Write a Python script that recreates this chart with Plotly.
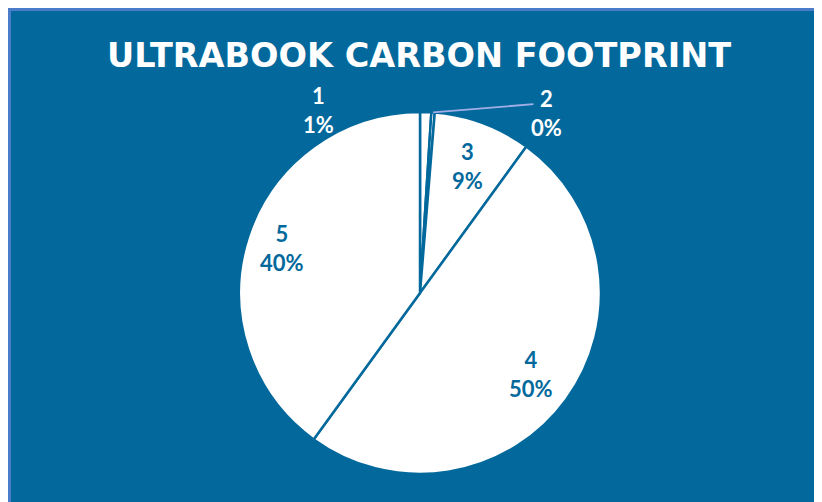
import math
import plotly.graph_objects as go

categories = ["1", "2", "3", "4", "5"]
values = [1.0, 0.3, 8.7, 50.0, 40.0]
title_text = "ULTRABOOK CARBON FOOTPRINT"

BLUE = "#03699c"
FRAME = "#4a7cc9"
LEADER = "#a3aee6"
W, H = 822, 502
CX, CY, R = 412, 285, 181          # pie centre / radius in figure pixels
INSIDE_FRAC = [None, None, 0.75, 0.76, 0.80]
# label offsets (px from pie centre) for the two small slices placed outside
OUTSIDE_OFF = {0: (-102, -183), 1: (126, -180)}
FONT = "Lato"

total = sum(values)
pcts = [v / total for v in values]


def to_paper(px, py):
    return px / W, 1 - py / H


fig = go.Figure()
fig.add_trace(go.Pie(
    labels=categories,
    values=values,
    sort=False,
    direction="clockwise",
    rotation=0,
    marker=dict(colors=["white"] * len(values), line=dict(color=BLUE, width=2.5)),
    textinfo="none",
    showlegend=False,
    hoverinfo="label+percent",
    domain=dict(x=[(CX - R) / W, (CX + R) / W], y=[1 - (CY + R) / H, 1 - (CY - R) / H]),
))

annotations = []
cum = 0.0
for i, (lab, p) in enumerate(zip(categories, pcts)):
    mid = (cum + p / 2) * 2 * math.pi
    cum += p
    txt = f"{lab}<br>{round(p * 100):.0f}%"
    if i in OUTSIDE_OFF:
        dx, dy = OUTSIDE_OFF[i]
        x, y = to_paper(CX + dx, CY + dy)
        annotations.append(dict(x=x, y=y, xref="paper", yref="paper", text=txt, showarrow=False,
                                xanchor="center", yanchor="middle",
                                font=dict(color="white", size=22, family=FONT, weight="bold")))
        if i == 1:
            ex, ey = to_paper(CX + R * math.sin(mid), CY - R * math.cos(mid))
            lx, ly = CX + dx - 11, CY + dy - 9
            annotations.append(dict(x=ex, y=ey, xref="paper", yref="paper", text="",
                                    showarrow=True, arrowhead=0, arrowwidth=1.8, arrowcolor=LEADER,
                                    standoff=0, startstandoff=0,
                                    ax=lx - (CX + R * math.sin(mid)), ay=ly - (CY - R * math.cos(mid))))
    else:
        f = INSIDE_FRAC[i]
        x, y = to_paper(CX + f * R * math.sin(mid), CY - f * R * math.cos(mid))
        annotations.append(dict(x=x, y=y, xref="paper", yref="paper", text=txt, showarrow=False,
                                xanchor="center", yanchor="middle",
                                font=dict(color=BLUE, size=22, family=FONT, weight="bold")))

fig.update_layout(
    width=W, height=H,
    margin=dict(l=0, r=0, t=0, b=0),
    paper_bgcolor=BLUE,
    title=dict(text=title_text, x=0.5, xanchor="center", y=0.905, yanchor="middle",
               font=dict(color="white", size=33.5, family="DejaVu Sans", weight="bold")),
    shapes=[dict(type="rect", xref="paper", yref="paper", x0=0.0018, x1=1.2, y0=-0.2, y1=0.997,
                 fillcolor="rgba(0,0,0,0)", line=dict(color=FRAME, width=3), layer="above")],
    annotations=annotations,
)

fig.write_html("out.html")
